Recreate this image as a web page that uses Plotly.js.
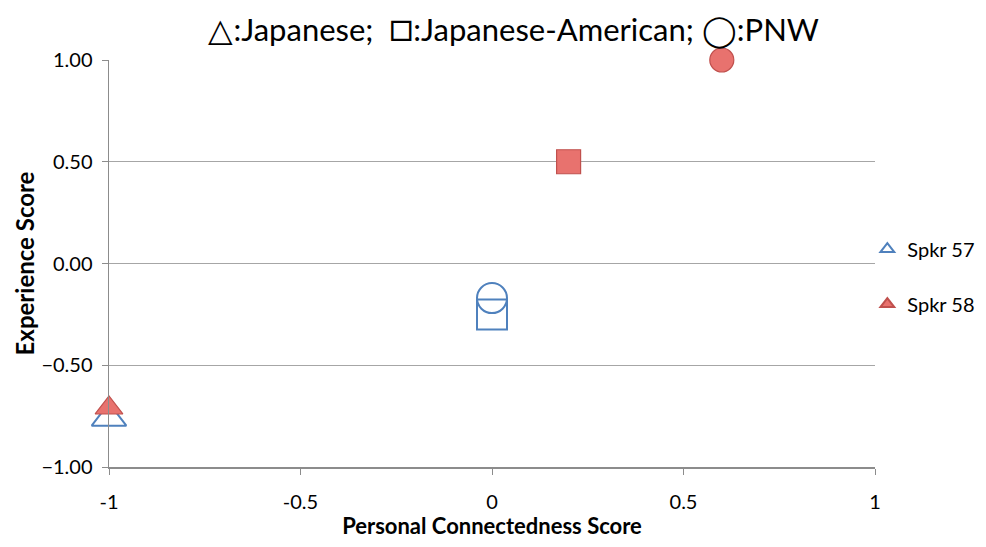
<!DOCTYPE html>
<html><head><meta charset="utf-8">
<script src="https://cdn.plot.ly/plotly-3.0.1.min.js"></script>
<style>body{margin:0;background:#fff}#c{width:986px;height:547px}</style>
</head><body><div id="c"></div>
<script>
const speakers = ["Spkr 57", "Spkr 58"];
const groups = ["Japanese", "Japanese-American", "PNW"];
const groupSymbols = ["triangle-up", "square", "circle"];
const x57 = [-1, 0, 0];
const y57 = [-0.76, -0.25, -0.17];
const x58 = [-1, 0.2, 0.6];
const y58 = [-0.71, 0.5, 1.0];
const xTicks = [-1, -0.5, 0, 0.5, 1];
const xTickText = ["-1", "-0.5", "0", "0.5", "1"];
const yTicks = [-1, -0.5, 0, 0.5, 1];

const font = "Lato, 'Open Sans', sans-serif";
const sym = (s, sz) => '<span style="font-size:' + sz + 'px">' + s + '</span>';
const traces = [
  {x: x57, y: y57, name: speakers[0], legendgroup: "s57", mode: "markers", type: "scatter", text: groups, cliponaxis: false,
   marker: {symbol: groupSymbols.map(s => s + "-open"), size: 30, color: "#4F81BD", line: {width: 2, color: "#4F81BD"}}},
  {x: x58, y: y58, name: speakers[1], legendgroup: "s58", mode: "markers", type: "scatter", text: groups, cliponaxis: false,
   marker: {symbol: groupSymbols, size: 24, color: "#E8726E", line: {width: 1.2, color: "#C0504D"}}}
];
const layout = {
  width: 986, height: 547,
  margin: {l: 109, r: 111, t: 60, b: 80, autoexpand: false},
  paper_bgcolor: "#fff", plot_bgcolor: "#fff",
  font: {family: font, size: 20, color: "#000"},
  title: {text: sym("△", 32) + ":Japanese;  " + sym("□", 40) + ":Japanese-American; " + sym("◯", 31) + ":PNW",
    x: 0.521, xanchor: "center", y: 0.945, yanchor: "middle", font: {size: 31, family: font}},
  xaxis: {range: [-1, 1], tickvals: xTicks, ticktext: xTickText, showgrid: false, zeroline: false,
    showline: true, linecolor: "#8c8c8c", linewidth: 1.5, ticks: "outside", ticklen: 6, tickcolor: "#8c8c8c",
    tickfont: {size: 20}, ticklabelstandoff: 10,
    title: {text: "<b>Personal Connectedness Score</b>", font: {size: 22}, standoff: 6}},
  yaxis: {range: [-1, 1], tickvals: yTicks, tickformat: ".2f", showgrid: true, gridcolor: "#a6a6a6", gridwidth: 1.3, zeroline: false,
    showline: true, linecolor: "#8c8c8c", linewidth: 1.5, ticks: "outside", ticklen: 6, tickcolor: "#8c8c8c",
    tickfont: {size: 20}, ticklabelstandoff: 5,
    title: {text: "<b>Experience Score</b>", font: {size: 24}, standoff: 0}},
  legend: {x: 0.99, xanchor: "left", y: 0.468, yanchor: "middle", font: {size: 20}, itemsizing: "constant", tracegroupgap: 26, bgcolor: "rgba(0,0,0,0)", itemwidth: 30},
  showlegend: true
};
Plotly.newPlot("c", traces, layout, {displayModeBar: false, staticPlot: true});
</script></body></html>
